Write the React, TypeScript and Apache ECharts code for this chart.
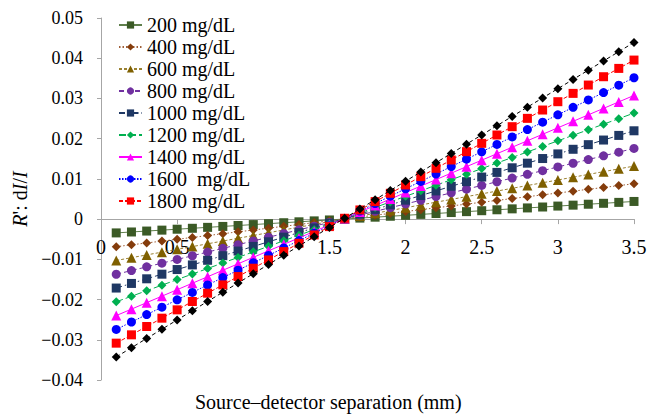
import React, { useEffect, useRef } from "react";
import * as echarts from "echarts";

const xValues = [0.1, 0.2, 0.3, 0.4, 0.5, 0.6, 0.7, 0.8, 0.9, 1.0, 1.1, 1.2, 1.3, 1.4, 1.5, 1.6, 1.7, 1.8, 1.9, 2.0, 2.1, 2.2, 2.3, 2.4, 2.5, 2.6, 2.7, 2.8, 2.9, 3.0, 3.1, 3.2, 3.3, 3.4, 3.5];

const seriesNames = ["200 mg/dL", "400 mg/dL", "600 mg/dL", "800 mg/dL", "1000 mg/dL", "1200 mg/dL", "1400 mg/dL", "1600\u00a0 mg/dL", "1800 mg/dL", "2000 mg/dL"];
const legendNames = seriesNames.slice(0, 9);

const s200 = [-0.00343, -0.0032, -0.00297, -0.00274, -0.00251, -0.00228, -0.00205, -0.00182, -0.00159, -0.00136, -0.00113, -0.0009, -0.00067, -0.00044, -0.00021, 0.00002, 0.00025, 0.00048, 0.00071, 0.00094, 0.00117, 0.0014, 0.00163, 0.00186, 0.00209, 0.00232, 0.00255, 0.00278, 0.00301, 0.00324, 0.00347, 0.0037, 0.00393, 0.00416, 0.00439];
const s400 = [-0.00685, -0.00639, -0.00593, -0.00547, -0.00501, -0.00455, -0.00409, -0.00363, -0.00317, -0.00271, -0.00225, -0.00179, -0.00133, -0.00087, -0.00041, 0.00005, 0.00051, 0.00097, 0.00143, 0.00189, 0.00235, 0.00281, 0.00327, 0.00373, 0.00419, 0.00465, 0.00511, 0.00557, 0.00603, 0.00649, 0.00695, 0.00741, 0.00787, 0.00833, 0.00879];
const s600 = [-0.01028, -0.00959, -0.0089, -0.00821, -0.00752, -0.00683, -0.00614, -0.00545, -0.00476, -0.00407, -0.00338, -0.00269, -0.002, -0.00131, -0.00062, 0.00007, 0.00076, 0.00145, 0.00214, 0.00283, 0.00352, 0.00421, 0.0049, 0.00559, 0.00628, 0.00697, 0.00766, 0.00835, 0.00904, 0.00973, 0.01042, 0.01111, 0.0118, 0.01249, 0.01318];
const s800 = [-0.01371, -0.01279, -0.01187, -0.01095, -0.01003, -0.00911, -0.00819, -0.00727, -0.00635, -0.00543, -0.00451, -0.00359, -0.00267, -0.00175, -0.00083, 0.00009, 0.00101, 0.00193, 0.00285, 0.00377, 0.00469, 0.00561, 0.00653, 0.00745, 0.00837, 0.00929, 0.01021, 0.01113, 0.01205, 0.01297, 0.01389, 0.01481, 0.01573, 0.01665, 0.01757];
const s1000 = [-0.01714, -0.01599, -0.01484, -0.01369, -0.01254, -0.01139, -0.01024, -0.00909, -0.00794, -0.00679, -0.00564, -0.00449, -0.00334, -0.00219, -0.00104, 0.00011, 0.00126, 0.00241, 0.00356, 0.00471, 0.00586, 0.00701, 0.00816, 0.00931, 0.01046, 0.01161, 0.01276, 0.01391, 0.01506, 0.01621, 0.01736, 0.01851, 0.01966, 0.02081, 0.02196];
const s1200 = [-0.02056, -0.01918, -0.0178, -0.01642, -0.01504, -0.01366, -0.01228, -0.0109, -0.00952, -0.00814, -0.00676, -0.00538, -0.004, -0.00262, -0.00124, 0.00014, 0.00152, 0.0029, 0.00428, 0.00566, 0.00704, 0.00842, 0.0098, 0.01118, 0.01256, 0.01394, 0.01532, 0.0167, 0.01808, 0.01946, 0.02084, 0.02222, 0.0236, 0.02498, 0.02636];
const s1400 = [-0.02399, -0.02238, -0.02077, -0.01916, -0.01755, -0.01594, -0.01433, -0.01272, -0.01111, -0.0095, -0.00789, -0.00628, -0.00467, -0.00306, -0.00145, 0.00016, 0.00177, 0.00338, 0.00499, 0.0066, 0.00821, 0.00982, 0.01143, 0.01304, 0.01465, 0.01626, 0.01787, 0.01948, 0.02109, 0.0227, 0.02431, 0.02592, 0.02753, 0.02914, 0.03075];
const s1600 = [-0.02742, -0.02558, -0.02374, -0.0219, -0.02006, -0.01822, -0.01638, -0.01454, -0.0127, -0.01086, -0.00902, -0.00718, -0.00534, -0.0035, -0.00166, 0.00018, 0.00202, 0.00386, 0.0057, 0.00754, 0.00938, 0.01122, 0.01306, 0.0149, 0.01674, 0.01858, 0.02042, 0.02226, 0.0241, 0.02594, 0.02778, 0.02962, 0.03146, 0.0333, 0.03514];
const s1800 = [-0.03084, -0.02877, -0.0267, -0.02463, -0.02256, -0.02049, -0.01842, -0.01635, -0.01428, -0.01221, -0.01014, -0.00807, -0.006, -0.00393, -0.00186, 0.00021, 0.00228, 0.00435, 0.00642, 0.00849, 0.01056, 0.01263, 0.0147, 0.01677, 0.01884, 0.02091, 0.02298, 0.02505, 0.02712, 0.02919, 0.03126, 0.03333, 0.0354, 0.03747, 0.03954];
const s2000 = [-0.03427, -0.03197, -0.02967, -0.02737, -0.02507, -0.02277, -0.02047, -0.01817, -0.01587, -0.01357, -0.01127, -0.00897, -0.00667, -0.00437, -0.00207, 0.00023, 0.00253, 0.00483, 0.00713, 0.00943, 0.01173, 0.01403, 0.01633, 0.01863, 0.02093, 0.02323, 0.02553, 0.02783, 0.03013, 0.03243, 0.03473, 0.03703, 0.03933, 0.04163, 0.04393];

const allValues = [s200, s400, s600, s800, s1000, s1200, s1400, s1600, s1800, s2000];

const yTicks = { min: -0.04, max: 0.05, interval: 0.01 };

const FONT = "Liberation Serif, Times New Roman, serif";

const styles = [
  { color: "#3b5a26", line: "#5f7f4c", symbol: "rect", size: 9, type: "solid" as any },
  { color: "#843c0c", line: "#a0603a", symbol: "diamond", size: 9, type: [1.5, 2] },
  { color: "#7f6000", line: "#9a8030", symbol: "triangle", size: 10, type: [3, 2] },
  { color: "#7030a0", line: "#7030a0", symbol: "circle", size: 9, type: [5, 3] },
  { color: "#1f3864", line: "#1f3864", symbol: "rect", size: 9, type: [6, 3, 1.5, 3] },
  { color: "#00b050", line: "#00b050", symbol: "diamond", size: 9, type: [7, 3] },
  { color: "#ff00ff", line: "#ff00ff", symbol: "triangle", size: 10, type: "solid" },
  { color: "#0000ff", line: "#0000ff", symbol: "circle", size: 9, type: [1.5, 1.5] },
  { color: "#ff0000", line: "#ff0000", symbol: "rect", size: 9, type: [4, 2] },
  { color: "#000000", line: "#000000", symbol: "diamond", size: 9, type: [4, 3] },
];

function fmt(v: number): string {
  if (Math.abs(v) < 1e-9) return "0";
  const s = v.toFixed(2);
  return s.replace("-", "\u2212");
}

const GRID = { left: 101, right: 26, top: 18, bottom: 40 };
const H = 420;

export default function App() {
  const ref = useRef<HTMLDivElement>(null);
  useEffect(() => {
    if (!ref.current) return;
    const chart = echarts.init(ref.current, undefined, { renderer: "svg" });
    const plotH = H - GRID.top - GRID.bottom;
    const zeroOffset = -plotH * (0 - yTicks.min) / (yTicks.max - yTicks.min);
    const series = allValues.map((vals, i) => ({
      name: seriesNames[i],
      type: "line",
      data: vals.map((v, j) => [xValues[j], v]),
      symbol: styles[i].symbol,
      symbolSize: styles[i].size,
      itemStyle: { color: styles[i].color },
      lineStyle: { color: styles[i].line, width: 1, type: styles[i].type },
      z: 2 + i,
    }));
    chart.setOption({
      animation: false,
      backgroundColor: "#ffffff",
      textStyle: { fontFamily: FONT },
      grid: { ...GRID, containLabel: false },
      legend: {
        data: legendNames,
        orient: "vertical",
        left: 113,
        top: 10,
        itemWidth: 23,
        itemHeight: 9,
        itemGap: 2,
        textStyle: { fontFamily: FONT, fontSize: 20, color: "#000", lineHeight: 20 },
      },
      xAxis: {
        type: "value",
        min: 0,
        max: 3.5,
        interval: 0.5,
        position: "bottom",
        offset: zeroOffset,
        splitLine: { show: false },
        axisLine: { onZero: false, lineStyle: { color: "#a6a6a6", width: 1 } },
        axisTick: { show: true, length: 5, lineStyle: { color: "#a6a6a6" } },
        axisLabel: { fontFamily: FONT, fontSize: 20, color: "#000", margin: 18, formatter: (v: number) => String(v) },
        z: 1,
      },
      yAxis: {
        type: "value",
        min: yTicks.min,
        max: yTicks.max,
        interval: yTicks.interval,
        splitLine: { show: false },
        axisLine: { show: true, onZero: false, lineStyle: { color: "#a6a6a6", width: 1 } },
        axisTick: { show: true, length: 4, lineStyle: { color: "#a6a6a6" } },
        axisLabel: { fontFamily: FONT, fontSize: 18, color: "#000", margin: 18, formatter: fmt },
        name: "{i|R}': d{i|I}/{i|I}",
        nameLocation: "middle",
        nameGap: 64,
        nameRotate: 90,
        nameTextStyle: {
          fontFamily: FONT,
          fontSize: 20,
          color: "#000",
          rich: { i: { fontFamily: FONT, fontSize: 20, fontStyle: "italic", color: "#000" } },
        },
        z: 1,
      },
      graphic: [
        {
          type: "text",
          x: 195,
          y: 402,
          style: {
            text: "Source\u2013detector separation (mm)",
            fontFamily: FONT,
            fontSize: 20,
            fill: "#000",
            verticalAlign: "middle",
          },
        },
      ],
      series,
    });
    return () => chart.dispose();
  }, []);
  return <div ref={ref} style={{ width: 660, height: 420, position: "fixed", left: 0, top: 0 }} />;
}
